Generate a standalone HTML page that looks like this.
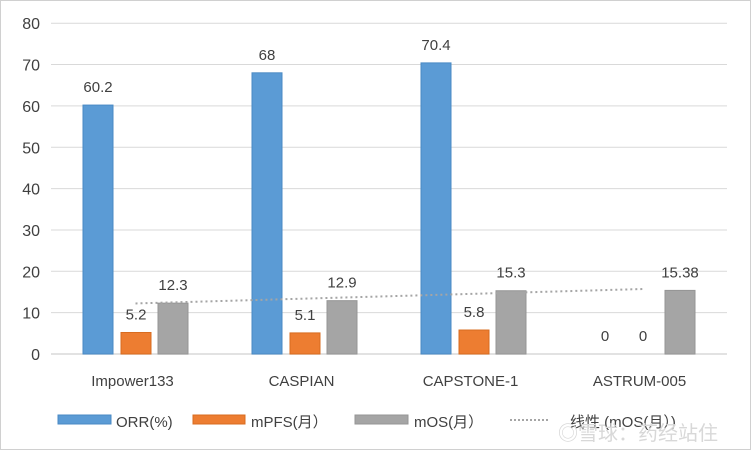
<!DOCTYPE html>
<html><head><meta charset="utf-8"><style>
body{margin:0;background:#fff;}
#c{position:absolute;left:0;top:0;width:752px;height:452px;}
text{font-family:"Liberation Sans","Noto Sans CJK SC",sans-serif;fill:#404040;}
</style></head><body>
<svg id="c" width="752" height="452">
<rect x="0.5" y="0.5" width="750" height="449" fill="#fff" stroke="#d0d0d0"/>
<g id="grid"></g><g id="bars"></g><g id="labels"></g><g id="trend"></g>
<g id="legend">
<rect x="58" y="415" width="53" height="9" fill="#5b9bd5" stroke="#4a8ac4"/>
<text x="116" y="427" font-size="15">ORR(%)</text>
<rect x="193" y="415" width="52" height="9" fill="#ed7d31" stroke="#d86c20"/>
<text x="251" y="427" font-size="15">mPFS(月）</text>
<rect x="355" y="415" width="53" height="9" fill="#a5a5a5" stroke="#959595"/>
<text x="414" y="427" font-size="15">mOS(月）</text>
<line x1="510" y1="420" x2="550" y2="420" stroke="#a5a5a5" stroke-width="2" stroke-dasharray="2,2"/>
<text x="570" y="427" font-size="15">线性 (mOS(月）)</text>
</g>
<text x="558" y="440" font-size="20" style="fill:#d8d8d8">◎雪球：药经站住</text>
</svg>
<script>
const categories=["Impower133","CASPIAN","CAPSTONE-1","ASTRUM-005"];
const orr=[60.2,68,70.4,0];
const mpfs=[5.2,5.1,5.8,0];
const mos=[12.3,12.9,15.3,15.38];
const yTicks=[0,10,20,30,40,50,60,70,80];
const NS="http://www.w3.org/2000/svg";
const x0=51,gw=169,y0=354,py=41.35/10;
const Y=v=>y0-v*py, CX=i=>x0+gw*(i+0.5);
function mk(t,a,p){const e=document.createElementNS(NS,t);for(const k in a)e.setAttribute(k,a[k]);p.appendChild(e);return e;}
const g=document.getElementById('grid'),b=document.getElementById('bars'),l=document.getElementById('labels'),tr=document.getElementById('trend');
yTicks.forEach(v=>{
 const ln=mk('line',{x1:x0,x2:727,y1:Y(v),y2:Y(v),stroke:'#d9d9d9','stroke-width':v==0?1.5:1},g);
 
 
 const t=mk('text',{x:40,y:Y(v)+6,'font-size':16,'text-anchor':'end'},g);t.textContent=v;
 
 
});
const series=[[orr,'#5b9bd5','#4a8ac4',-52.5,'orr'],[mpfs,'#ed7d31','#d86c20',-14.5,'mpfs'],[mos,'#a5a5a5','#959595',22.5,'mos']];
categories.forEach((c,i)=>{
 const t=mk('text',{x:CX(i)-3,y:386,'font-size':15,'text-anchor':'middle'},l);t.textContent=c;
 
 
 series.forEach(([d,f,s,off,n])=>{
  const v=d[i],x=CX(i)+off;
  if(v>0){const r=mk('rect',{x:x,y:Y(v),width:30,height:y0-Y(v),fill:f,stroke:s},b);
   
   }
  const lt=mk('text',{x:x+15,y:Y(v)-13,'font-size':15,'text-anchor':'middle',fill:'#404040'},l);lt.textContent=v;
  
  
 });
});
const n=mos.length,mx=(n+1)/2,my=mos.reduce((a,c)=>a+c,0)/n;
let sxy=0,sxx=0;mos.forEach((v,i)=>{sxy+=(i+1-mx)*(v-my);sxx+=(i+1-mx)**2;});
const sl=sxy/sxx,ic=my-sl*mx;
const tl=mk('line',{x1:CX(0),y1:Y(ic+sl),x2:CX(n-1),y2:Y(ic+sl*n),stroke:'#a5a5a5','stroke-width':2,'stroke-dasharray':'2,3'},tr);


</script>
</body></html>
